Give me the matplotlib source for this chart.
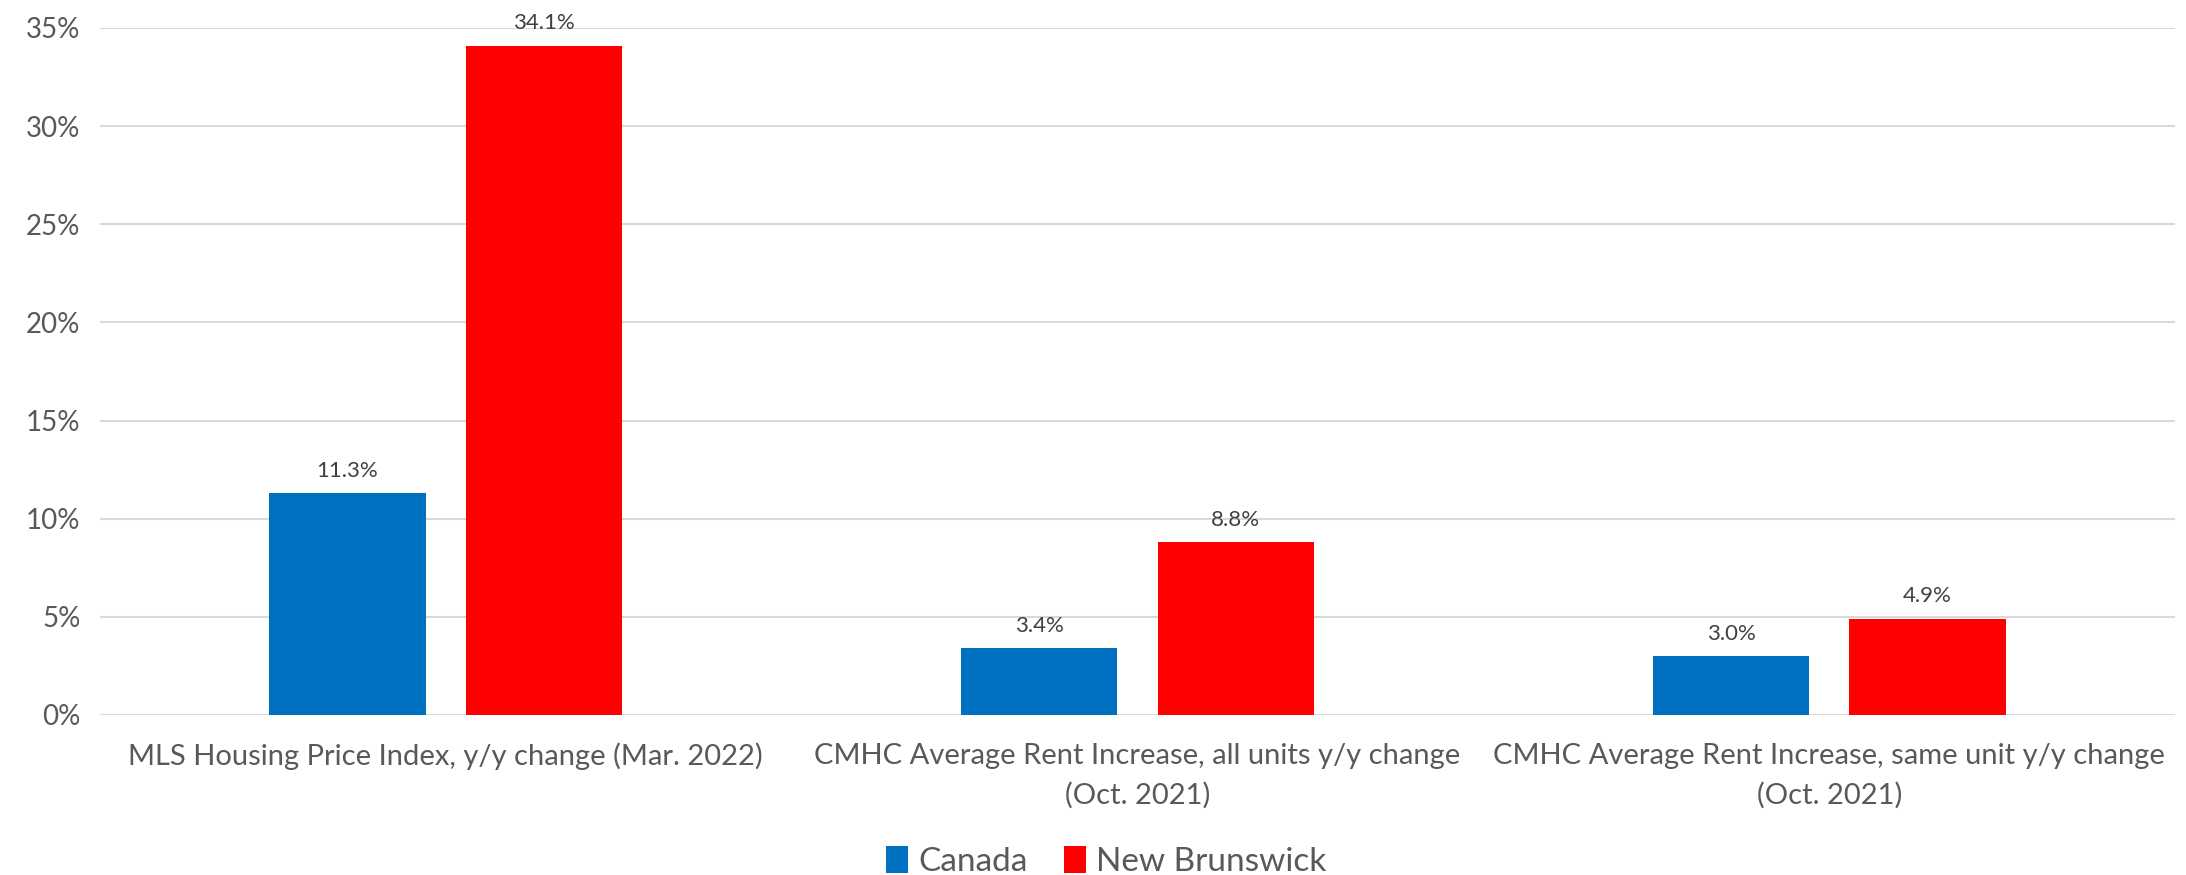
import matplotlib
matplotlib.use("Agg")
import matplotlib.pyplot as plt
import numpy as np
from matplotlib.patches import Patch

categories = [
    "MLS Housing Price Index, y/y change (Mar. 2022)",
    "CMHC Average Rent Increase, all units y/y change\n(Oct. 2021)",
    "CMHC Average Rent Increase, same unit y/y change\n(Oct. 2021)",
]
series_names = ["Canada", "New Brunswick"]
canada = [11.3, 3.4, 3.0]
new_brunswick = [34.1, 8.8, 4.9]
yticks = [0, 5, 10, 15, 20, 25, 30, 35]
ytick_labels = ["0%", "5%", "10%", "15%", "20%", "25%", "30%", "35%"]

colors = ["#0070C0", "#FF0000"]

plt.rcParams['font.family'] = ['Lato', 'DejaVu Sans']

fig = plt.figure(figsize=(21.86, 8.75), dpi=100)
ax = fig.add_axes([0.0457, 0.183, 0.9493, 0.785])

x = np.arange(len(categories))
w = 0.226
off = 0.142
b1 = ax.bar(x - off, canada, w, color=colors[0], zorder=3)
b2 = ax.bar(x + off, new_brunswick, w, color=colors[1], zorder=3)

for bars, vals in ((b1, canada), (b2, new_brunswick)):
    for rect, v in zip(bars, vals):
        ax.annotate(f"{v:.1f}%", (rect.get_x() + rect.get_width() / 2, v),
                    xytext=(0, 9), textcoords="offset points",
                    ha="center", va="bottom", fontsize=16, color="#404040")

ax.set_xlim(-0.5, 2.5)
ax.set_ylim(0, 35)
ax.set_yticks(yticks)
ax.set_yticklabels(ytick_labels, fontsize=20, color="#595959")
ax.set_xticks(x)
ax.set_xticklabels(categories, fontsize=21, color="#595959", linespacing=1.6)
ax.tick_params(axis="both", length=0)
ax.tick_params(axis="x", pad=20)
ax.tick_params(axis="y", pad=14)
ax.grid(axis="y", color="#D9D9D9", linewidth=1.5, zorder=0)
for s in ax.spines.values():
    s.set_visible(False)

handles = [Patch(facecolor=c, edgecolor="none") for c in colors]
fig.legend(handles, series_names, loc="center", bbox_to_anchor=(0.506, 0.015),
           ncol=2, frameon=False, fontsize=24, labelcolor="#595959",
           handlelength=0.65, handleheight=0.85, handletextpad=0.3, columnspacing=1.1)

fig.savefig("out.png", dpi=100)
